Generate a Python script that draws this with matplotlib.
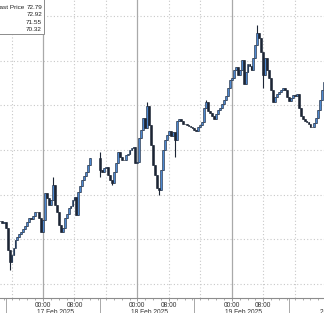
import numpy as np
import pandas as pd
import matplotlib
matplotlib.use("Agg")
import matplotlib.pyplot as plt
import matplotlib.dates as mdates
from matplotlib.patches import Rectangle
from matplotlib.transforms import blended_transform_factory

plt.rcParams['font.family'] = ['Liberation Sans', 'DejaVu Sans']

# 30 minute bars, starting 16 Feb 13:00 (None = no trading)
start = "2025-02-16 13:00"
closes = [
    70.70, 70.68, 70.69, 70.63, 70.38, 70.25, 70.32, 70.40, 70.49, 70.53,
    70.56, 70.58, 70.62, 70.65, 70.69, 70.74, 70.73, 70.76, 70.81, 70.81,
    70.74, 70.58, 70.72, 71.02, 70.96, 70.88, 70.94, 71.11, 70.88, 70.81,
    70.66, 70.58, 70.63, 70.74, 70.78, 70.85, 70.87, 70.94, 70.97, 70.77,
    71.03, 71.10, 71.16, 71.21, 71.25, 71.33, 71.41,
    None, None, None, None,
    71.28, 71.25, 71.30, 71.31, 71.22, 71.16, 71.13, 71.25, 71.35, 71.48,
    71.42, 71.39, 71.39, 71.44, 71.45, 71.50, 71.52, 71.53, 71.35, 71.36,
    71.63, 71.72, 71.86, 71.75, 71.99, 71.78, 71.55, 71.33, 71.22, 71.07,
    71.05, 71.28, 71.50, 71.61, 71.67, 71.71, 71.66, 71.70, 71.61, 71.82,
    71.85, 71.82, 71.79, 71.79, 71.78, 71.77, 71.76, 71.75, 71.72, 71.71,
    71.76, 71.78, 71.81, 71.97, 72.04, 71.94, 71.91, 71.88, 71.85, 71.90,
    71.95, 71.97, 72.01, 72.06, 72.10, 72.19, 72.28, 72.30, 72.39, 72.43,
    72.34, 72.39, 72.51, 72.24, 72.37, 72.46, 72.44, 72.39, 72.53, 72.67,
    72.81, 72.75, 72.60, 72.34, 72.53, 72.39, 72.30, 72.17, 72.04, 72.09,
    72.13, 72.15, 72.17, 72.19, 72.17, 72.09, 72.05, 72.08, 72.11, 72.10,
    72.13, 71.97, 71.88, 71.85, 71.82, 71.81, 71.79, 71.76, 71.76, 71.80,
    71.86, 71.95, 72.06, 72.17, 72.26,
]
# notable wicks
wick_highs = [("2025-02-17 02:30", 71.20), ("2025-02-17 14:30", 71.48),
              ("2025-02-18 02:30", 72.04), ("2025-02-18 17:30", 72.06),
              ("2025-02-19 06:30", 72.90)]
wick_lows = [("2025-02-16 15:30", 70.16), ("2025-02-17 14:30", 71.20),
             ("2025-02-17 17:30", 71.11), ("2025-02-18 05:30", 70.99),
             ("2025-02-18 09:30", 71.42), ("2025-02-19 08:00", 72.19)]

legend_names = ["Last Price", "", "", ""]
legend_values = ["72.79", "72.92", "71.55", "70.32"]
days = ["2025-02-16", "2025-02-17", "2025-02-18", "2025-02-19", "2025-02-20"]
y_grid = [70.0, 70.5, 71.0, 71.5, 72.0, 72.5, 73.0]

idx = pd.date_range(start, periods=len(closes), freq="30min")
df = pd.DataFrame({"close": np.array([np.nan if c is None else c for c in closes])},
                  index=idx)
df = df.dropna()
df["open"] = df["close"].shift(1).fillna(df["close"])
df["high"] = df[["open", "close"]].max(axis=1)
df["low"] = df[["open", "close"]].min(axis=1)
for t, v in wick_highs:
    df.loc[pd.Timestamp(t), "high"] = max(v, df.loc[pd.Timestamp(t), "high"])
for t, v in wick_lows:
    df.loc[pd.Timestamp(t), "low"] = min(v, df.loc[pd.Timestamp(t), "low"])

fig = plt.figure(figsize=(3.24, 3.13), dpi=100)
ax = fig.add_axes([0, 15 / 313, 1, 298 / 313])

# grid
for v in y_grid:
    ax.axhline(v, color="#c8c8c8", lw=0.8, ls=(0, (1, 2)), zorder=0)
for d in days:
    base = pd.Timestamp(d)
    ax.axvline(mdates.date2num(base), color="#a9a9a9", lw=0.9, zorder=0)
    for h in (8, 16):
        ax.axvline(mdates.date2num(base + pd.Timedelta(hours=h)), color="#c8c8c8",
                   lw=0.8, ls=(0, (1, 2)), zorder=0)

# candles
x = mdates.date2num(df.index)
up = (df["close"] >= df["open"]).values
ax.vlines(x, df["low"], df["high"], color="#1c2535", lw=0.8, zorder=2)
w = 0.95 / 48
ax.bar(x[up], (df["close"] - df["open"])[up], bottom=df["open"][up], width=w,
       color="#4d88d0", edgecolor="#1c2535", lw=0.4, zorder=3)
ax.bar(x[~up], (df["open"] - df["close"])[~up], bottom=df["close"][~up], width=w,
       color="#1c2535", edgecolor="#1c2535", lw=0.4, zorder=3)

# axes styling
for s in ["top", "right", "left"]:
    ax.spines[s].set_visible(False)
ax.spines["bottom"].set_color("#8c8c8c")
ax.set_yticks([])
major = []
for d in days:
    major += [pd.Timestamp(d), pd.Timestamp(d) + pd.Timedelta(hours=8)]
ax.set_xticks(mdates.date2num(major))
ax.set_xticklabels([t.strftime("%H:%M") for t in major], fontsize=4.8, color="#333333")
ax.set_xticks(mdates.date2num(pd.date_range("2025-02-16", "2025-02-20", freq="2h")),
              minor=True)
ax.tick_params(axis="x", which="major", length=2.0, width=0.6, color="#8c8c8c", pad=0.6)
ax.tick_params(axis="x", which="minor", length=1.5, width=0.5, color="#8c8c8c")

d0 = mdates.date2num(pd.Timestamp("2025-02-17"))
ax.set_xlim(d0 - 43 / 94.4, d0 + 281 / 94.4)
ax.set_ylim(69.843, 73.177)

trans = blended_transform_factory(ax.transData, ax.transAxes)
for d in days:
    base = pd.Timestamp(d)
    ax.annotate(base.strftime("%d Feb %Y").lstrip("0"), xy=(mdates.date2num(base), 0),
                xycoords=trans, xytext=(-4.6, -10.2), textcoords="offset points",
                ha="left", va="center", fontsize=4.8, color="#333333",
                annotation_clip=False)
    sep = mdates.date2num(base + pd.Timedelta(hours=14, minutes=30))
    ax.plot([sep, sep], [0, -0.06], transform=trans, color="#9a9a9a", lw=0.6,
            clip_on=False)

# legend box
fig.patches.append(Rectangle((-0.05, 1 - 34 / 313), 0.05 + 44 / 324, 0.2,
                             transform=fig.transFigure, facecolor="white",
                             edgecolor="#8c8c8c", lw=0.7, zorder=10))
for k, (name, val) in enumerate(zip(legend_names, legend_values)):
    yy = 1 - (7.5 + 7.3 * k) / 313
    if name:
        fig.text(24 / 324, yy, name, ha="right", va="center", fontsize=4.6,
                 color="#222222", zorder=11)
    fig.text(42 / 324, yy, val, ha="right", va="center", fontsize=4.6,
             color="#222222", zorder=11)

fig.savefig("out.png", dpi=100)
